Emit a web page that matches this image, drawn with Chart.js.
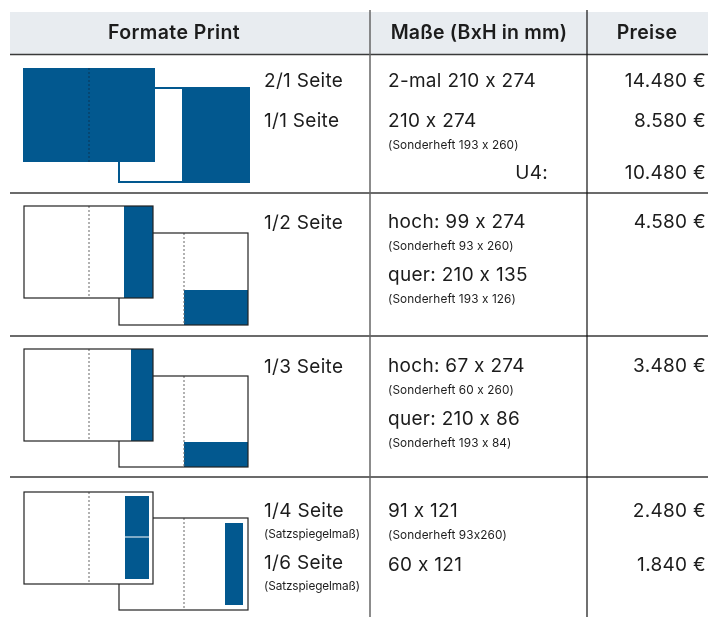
<!DOCTYPE html>
<html>
<head>
<meta charset="utf-8">
<script src="https://cdn.jsdelivr.net/npm/chart.js@4.4.1/dist/chart.umd.min.js"></script>
<style>
  body { margin: 0; background: #fff; }
  canvas { display: block; }
</style>
</head>
<body>
<canvas id="chart" width="712" height="617"></canvas>
<script>
// table content
const headers = ["Formate Print", "Maße (BxH in mm)", "Preise"];
const formats = ["2/1 Seite", "1/1 Seite", "1/2 Seite", "1/3 Seite", "1/4 Seite", "1/6 Seite"];
const formatNotes = ["", "", "", "", "(Satzspiegelmaß)", "(Satzspiegelmaß)"];
const sizes = ["2-mal 210 x 274", "210 x 274", "hoch: 99 x 274", "quer: 210 x 135",
  "hoch: 67 x 274", "quer: 210 x 86", "91 x 121", "60 x 121"];
const sizeNotes = ["", "(Sonderheft 193 x 260)", "(Sonderheft 93 x 260)", "(Sonderheft 193 x 126)",
  "(Sonderheft 60 x 260)", "(Sonderheft 193 x 84)", "(Sonderheft 93x260)", ""];
const priceLabels = ["", "", "U4:", "", "", "", ""];
const prices = [14480, 8580, 10480, 4580, 3480, 2480, 1840];

const BLUE = "#02588f";
const INK = "#1c1c1c";

// layout (pixel units of the hidden scales)
const rowLines = [193, 336, 477];
const formatY = [81, 121, 223, 367, 511, 563];
const sizeY = [81, 121, 222, 275, 366, 419, 511, 565];
const priceY = [81, 121, 173, 222, 366, 511, 565];

const diagrams = [
  { front: [23, 68, 155, 162], back: [119, 88, 249, 182], full: [182, 88, 249, 182] },
  { front: [24, 206, 153, 298], back: [119, 233, 248, 325],
    frontBlocks: [[124, 206, 153, 298]], backBlocks: [[184, 290, 248, 325]] },
  { front: [24, 349, 153, 441], back: [119, 376, 248, 467],
    frontBlocks: [[131, 349, 153, 441]], backBlocks: [[184, 442, 248, 467]] },
  { front: [24, 492, 153, 584], back: [119, 518, 248, 610],
    frontBlocks: [[125, 496, 149, 536.5], [125, 537.5, 149, 579]], backBlocks: [[225, 523, 243, 605]] }
];

function fmt(v) {
  return String(v).replace(/\B(?=(\d{3})+(?!\d))/g, ".") + " €";
}

const tablePlugin = {
  id: "table",
  afterDraw(chart) {
    const ctx = chart.ctx;
    const X = v => chart.scales.x.getPixelForValue(v);
    const Y = v => chart.scales.y.getPixelForValue(v);
    const rect = (r, fill, stroke, lw) => {
      const x0 = X(r[0]), y0 = Y(r[1]), x1 = X(r[2]), y1 = Y(r[3]);
      if (fill) { ctx.fillStyle = fill; ctx.fillRect(x0, y0, x1 - x0, y1 - y0); }
      if (stroke) { ctx.strokeStyle = stroke; ctx.lineWidth = lw; ctx.strokeRect(x0, y0, x1 - x0, y1 - y0); }
    };
    const dotted = (x, y0, y1, color) => {
      ctx.save();
      ctx.strokeStyle = color; ctx.lineWidth = 1; ctx.setLineDash([2, 2]);
      ctx.beginPath(); ctx.moveTo(X(x), Y(y0)); ctx.lineTo(X(x), Y(y1)); ctx.stroke();
      ctx.restore();
    };
    const line = (x0, y0, x1, y1, color, lw) => {
      ctx.strokeStyle = color; ctx.lineWidth = lw;
      ctx.beginPath(); ctx.moveTo(X(x0), Y(y0)); ctx.lineTo(X(x1), Y(y1)); ctx.stroke();
    };
    // letterSpacing != 0 also keeps Inter from turning "93x260" into a × sign
    const text = (s, x, y, font, align, spacing) => {
      ctx.font = font; ctx.fillStyle = INK; ctx.textAlign = align;
      ctx.textBaseline = "middle"; ctx.letterSpacing = (spacing || 0) + "px";
      ctx.fillText(s, X(x), Y(y));
      ctx.letterSpacing = "0px";
    };

    ctx.save();
    // header
    ctx.fillStyle = "#e8ecf0";
    ctx.fillRect(X(10), Y(12), X(708) - X(10), Y(54) - Y(12));
    const hf = "600 19.5px Inter, 'Liberation Sans', sans-serif";
    text(headers[0], 174, 33, hf, "center", 0.4);
    text(headers[1], 479, 33, hf, "center", 0.2);
    text(headers[2], 647, 33, hf, "center", 0.3);

    // grid
    line(10, 54.5, 708, 54.5, "#3a3a3a", 1.5);
    rowLines.forEach(y => line(10, y, 708, y, "#3a3a3a", 1.5));
    line(370, 10, 370, 617, "#666", 1.5);
    line(587, 10, 587, 617, "#111", 1.2);

    // diagrams
    diagrams.forEach(d => {
      if (d.full) {
        rect(d.back, "#fff", BLUE, 2);
        rect(d.full, BLUE);
        rect(d.front, BLUE);
        dotted(89, d.front[1], d.front[3], "#0b3457");
        return;
      }
      rect(d.back, "#fff");
      d.backBlocks.forEach(b => rect(b, BLUE));
      dotted(184, d.back[1], d.back[3], "#666");
      rect(d.back, null, "#222", 1.2);
      rect(d.front, "#fff");
      d.frontBlocks.forEach(b => rect(b, BLUE));
      dotted(89, d.front[1], d.front[3], "#666");
      rect(d.front, null, "#222", 1.2);
    });

    // text cells
    const bf = "19px Inter, 'Liberation Sans', sans-serif";
    const sf = "11.8px Inter, 'Liberation Sans', sans-serif";
    formats.forEach((s, i) => {
      text(s, 264, formatY[i], bf, "left", 0.3);
      if (formatNotes[i]) text(formatNotes[i], 264, formatY[i] + 23, sf, "left", -0.1);
    });
    sizes.forEach((s, i) => {
      text(s, 388, sizeY[i], bf, "left", 0.3);
      if (sizeNotes[i]) text(sizeNotes[i], 388, sizeY[i] + 24, sf, "left", 0.1);
    });
    prices.forEach((v, i) => {
      text(fmt(v), 706, priceY[i], bf, "right", 0.3);
      if (priceLabels[i]) text(priceLabels[i], 548, priceY[i], bf, "right", 0.3);
    });
    ctx.restore();
  }
};

new Chart(document.getElementById("chart").getContext("2d"), {
  type: "scatter",
  data: { datasets: [] },
  options: {
    responsive: false,
    animation: false,
    layout: { padding: 0 },
    scales: {
      x: { type: "linear", min: 0, max: 712, display: false },
      y: { type: "linear", min: 0, max: 617, reverse: true, display: false }
    },
    plugins: { legend: { display: false }, tooltip: { enabled: false } }
  },
  plugins: [tablePlugin]
});
</script>
</body>
</html>
